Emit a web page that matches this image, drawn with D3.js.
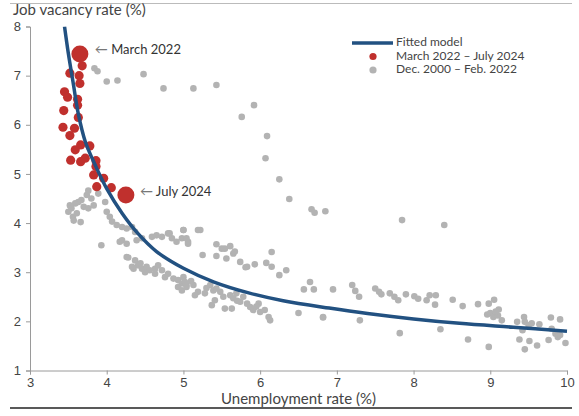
<!DOCTYPE html>
<html>
<head>
<meta charset="utf-8">
<script src="https://cdn.jsdelivr.net/npm/d3@7"></script>
<style>
  body { margin: 0; background: #fff; }
  svg { display: block; font-family: "Lato", "Noto Sans", sans-serif; }
  .tick text { fill: #444; font-size: 13px; }
  .axis-title { fill: #444; font-size: 15px; }
  .legend-text { fill: #444; font-size: 12px; }
  .note { fill: #333; font-size: 13px; }
</style>
</head>
<body>
<div id="chart"></div>
<script>
/* ── Beveridge curve scatter ───────────────────── */

// ── Data ──────────────────────────────────────
// fitted model (unemployment %, vacancy %)
const fitU = [3.45, 3.5, 3.56, 3.63, 3.72, 3.85, 4.0, 4.2, 4.4, 4.65, 5.0, 5.4, 5.85, 6.3, 6.9, 7.4, 8.0, 8.6, 9.3, 10.0];
const fitV = [8.0, 7.45, 6.88, 6.22, 5.66, 5.18, 4.7, 4.2, 3.8, 3.42, 3.08, 2.8, 2.58, 2.42, 2.27, 2.16, 2.05, 1.96, 1.88, 1.8];

// March 2022 – July 2024
const recentU = [3.65, 3.68, 3.52, 3.64, 3.65, 3.45, 3.49, 3.62, 3.62, 3.44, 3.63, 3.43, 3.58, 3.52, 3.66,
  3.78, 3.59, 3.72, 3.53, 3.66, 3.86, 3.86, 3.83, 3.96, 3.87, 4.06, 4.25];
const recentV = [7.44, 7.20, 7.05, 7.00, 6.84, 6.67, 6.56, 6.52, 6.40, 6.29, 6.15, 5.95, 5.93, 5.78, 5.59,
  5.57, 5.49, 5.32, 5.28, 5.25, 5.27, 5.15, 4.98, 4.91, 4.74, 4.72, 4.57];
const bigIdx = [0, 26];

// Dec. 2000 – Feb. 2022
const oldU = [
  3.84, 3.88, 4.00, 4.14, 4.48, 4.74, 5.13, 5.43, 5.76, 5.92, 6.09, 6.07, 6.25, 6.38, 6.67, 6.71, 6.85, 7.85, 8.40,
  3.76, 3.74, 3.80, 3.67, 3.63, 3.59, 3.52, 3.54, 3.50, 3.56, 3.70, 3.76, 3.83, 3.89, 3.98, 4.00, 4.04, 4.07, 4.13,
  4.20, 4.26, 4.33, 4.37, 4.20, 4.26, 4.39, 4.46, 3.93, 4.26, 4.37, 4.41, 4.35, 4.46, 4.52, 4.56, 4.63, 4.67, 4.72,
  4.63, 4.76, 4.80, 4.87, 4.93, 4.98, 4.93, 5.04, 4.98, 4.59, 4.65, 4.72, 4.80, 4.85, 4.91, 5.00, 4.98, 5.06,
  3.57, 3.61, 3.66, 4.33, 4.28, 4.17, 4.50, 4.44,
  5.00, 5.22, 5.04, 5.06, 5.43, 5.50, 5.61, 5.65, 5.25, 5.43, 5.56, 5.74, 5.83, 5.93, 6.08, 6.15, 6.15, 6.25,
  6.34, 6.65, 6.57, 6.70, 6.50, 6.82, 5.19, 4.82, 5.54, 5.67, 5.81,
  5.00, 5.02, 5.04, 5.13, 5.19, 5.15, 5.28, 5.35, 5.39, 5.43, 5.48, 5.41, 5.52, 5.61, 5.65, 5.69, 5.74, 5.78,
  5.83, 5.87, 5.91, 5.98, 6.00, 6.06, 6.11, 6.13, 5.54, 5.63, 5.37, 5.10, 5.30, 5.70, 5.95,
  6.95, 7.20, 7.24, 7.29, 7.50, 7.55, 7.58, 7.69, 7.75, 7.80, 7.90, 8.01, 8.06, 8.17, 8.21, 8.29, 8.28, 8.51,
  6.82, 7.30, 7.82, 8.35, 8.64, 8.71, 8.84, 8.98, 9.05, 8.98, 9.11,
  8.96, 9.00, 9.04, 9.10, 9.15, 9.35, 9.44, 9.45, 9.42, 9.50, 9.54, 9.64, 9.79, 9.91, 9.80, 9.85, 9.88, 9.91,
  9.38, 9.51, 9.61, 9.45, 9.76, 9.98, 9.07
];
const oldV = [
  7.15, 7.09, 6.88, 6.90, 7.03, 6.74, 6.74, 6.81, 6.16, 6.40, 5.77, 5.32, 4.89, 4.49, 4.28, 4.21, 4.24, 4.06, 3.96,
  4.66, 4.57, 4.50, 4.47, 4.43, 4.40, 4.36, 4.30, 4.23, 4.13, 4.33, 4.30, 4.36, 4.60, 4.43, 4.23, 4.13, 4.03, 3.96,
  3.92, 3.89, 3.92, 3.82, 3.65, 3.58, 3.65, 3.69, 3.55, 3.31, 3.24, 3.14, 3.07, 3.07, 3.11, 3.04, 3.07, 3.14, 3.04,
  2.97, 2.90, 2.97, 2.87, 2.84, 2.77, 2.70, 2.74, 2.63, 3.72, 3.75, 3.72, 3.79, 3.69, 3.62, 3.86, 3.69, 3.62,
  4.05, 4.20, 4.02, 3.11, 3.30, 3.62, 3.00, 3.18,
  3.86, 3.86, 3.69, 3.58, 3.57, 3.48, 3.53, 3.38, 3.35, 3.33, 3.28, 3.21, 3.11, 3.16, 3.19, 3.41, 3.11, 2.94,
  3.04, 2.80, 2.65, 2.65, 2.17, 2.09, 3.86, 3.79, 3.48, 3.42, 3.10,
  2.90, 2.80, 2.70, 2.74, 2.60, 2.53, 2.57, 2.74, 2.63, 2.67, 2.60, 2.43, 2.50, 2.53, 2.47, 2.57, 2.40, 2.50,
  2.36, 2.29, 2.23, 2.36, 2.19, 2.23, 2.09, 2.02, 2.26, 2.26, 2.33, 2.82, 2.68, 2.42, 2.30,
  2.65, 2.74, 2.62, 2.50, 2.67, 2.60, 2.55, 2.57, 2.50, 2.43, 2.55, 2.51, 2.46, 2.43, 2.53, 2.53, 2.34, 2.44,
  2.08, 2.02, 1.76, 1.84, 2.31, 1.63, 2.35, 2.36, 2.44, 1.48, 2.24,
  2.14, 2.17, 2.09, 2.12, 2.02, 1.99, 2.09, 1.99, 1.82, 1.92, 1.96, 1.94, 2.08, 2.04, 1.85, 1.75, 1.68, 1.72,
  1.63, 1.60, 1.51, 1.43, 1.62, 1.56, 2.20
];

const xTicks = [3, 4, 5, 6, 7, 8, 9, 10];
const yTicks = [1, 2, 3, 4, 5, 6, 7, 8];

// ── Layout ────────────────────────────────────
const W = 579, H = 416;
const PLOT = { left: 30, right: 567, top: 26.5, bottom: 370.5 };
const BLUE = "#225181", RED = "#c0302d", GRAY = "#b3b3b3", AXIS = "#9a9a9a";

const svg = d3.select("#chart").append("svg")
  .attr("width", W).attr("height", H);

const x = d3.scaleLinear().domain([3, 10]).range([PLOT.left, PLOT.right]);
const y = d3.scaleLinear().domain([1, 8]).range([PLOT.bottom, PLOT.top]);

// frame lines
svg.append("line").attr("x1", 10).attr("x2", 572).attr("y1", 3.5).attr("y2", 3.5)
  .attr("stroke", "#bbb").attr("stroke-width", 1);
svg.append("line").attr("x1", 10).attr("x2", 572).attr("y1", 408).attr("y2", 408)
  .attr("stroke", "#222").attr("stroke-width", 1.5);

// axes
const gx = svg.append("g").attr("transform", `translate(0,${PLOT.bottom})`)
  .call(d3.axisBottom(x).tickValues(xTicks).tickFormat(d3.format("d")).tickSize(4).tickPadding(3));
const gy = svg.append("g").attr("transform", `translate(${PLOT.left},0)`)
  .call(d3.axisLeft(y).tickValues(yTicks).tickFormat(d3.format("d")).tickSize(4).tickPadding(5));
[gx, gy].forEach(g => {
  g.select(".domain").attr("stroke", AXIS);
  g.selectAll(".tick line").attr("stroke", AXIS);
  g.selectAll(".tick text").attr("font-family", null).attr("font-size", null);
});

svg.append("text").attr("class", "axis-title")
  .attr("x", 13).attr("y", 15).text("Job vacancy rate (%)");
svg.append("text").attr("class", "axis-title")
  .attr("x", (PLOT.left + PLOT.right) / 2).attr("y", 404)
  .attr("text-anchor", "middle").text("Unemployment rate (%)");

// ── Marks ─────────────────────────────────────
svg.append("defs").append("clipPath").attr("id", "plot-clip")
  .append("rect").attr("x", PLOT.left).attr("y", PLOT.top)
  .attr("width", PLOT.right - PLOT.left + 4).attr("height", PLOT.bottom - PLOT.top);

svg.append("g").selectAll("circle")
  .data(oldU.map((u, i) => [u, oldV[i]]))
  .join("circle")
  .attr("cx", d => x(d[0])).attr("cy", d => y(d[1]))
  .attr("r", 3.3).attr("fill", GRAY);

svg.append("g").selectAll("circle")
  .data(recentU.map((u, i) => [u, recentV[i], bigIdx.includes(i)]))
  .join("circle")
  .attr("cx", d => x(d[0])).attr("cy", d => y(d[1]))
  .attr("r", d => d[2] ? 8.5 : 4.6).attr("fill", RED);

const line = d3.line().x(d => x(d[0])).y(d => y(d[1])).curve(d3.curveCatmullRom);
svg.append("path")
  .datum(fitU.map((u, i) => [u, fitV[i]]))
  .attr("d", line)
  .attr("fill", "none").attr("stroke", BLUE).attr("stroke-width", 3.5)
  .attr("clip-path", "url(#plot-clip)");

// ── Annotations ───────────────────────────────
function note(i, label, dx, dy) {
  svg.append("text").attr("class", "note")
    .attr("x", x(recentU[i]) + dx).attr("y", y(recentV[i]) + dy)
    .attr("dominant-baseline", "middle")
    .html(`<tspan fill="#777">\u2190</tspan> ${label}`);
}
note(0, "March 2022", 15, -3);
note(26, "July 2024", 14, -2);

// ── Legend ────────────────────────────────────
const lg = svg.append("g").attr("transform", "translate(352,43)");
lg.append("line").attr("x1", 0).attr("x2", 41).attr("y1", 0).attr("y2", 0)
  .attr("stroke", BLUE).attr("stroke-width", 3.5);
lg.append("circle").attr("cx", 21).attr("cy", 13.5).attr("r", 3.6).attr("fill", RED);
lg.append("circle").attr("cx", 21).attr("cy", 27).attr("r", 3.6).attr("fill", GRAY);
[["Fitted model", 0], ["March 2022 \u2013 July 2024", 13.5], ["Dec. 2000 \u2013 Feb. 2022", 27]]
  .forEach(([t, dy]) => lg.append("text").attr("class", "legend-text")
    .attr("x", 44).attr("y", dy).attr("dominant-baseline", "middle").text(t));
</script>
</body>
</html>
